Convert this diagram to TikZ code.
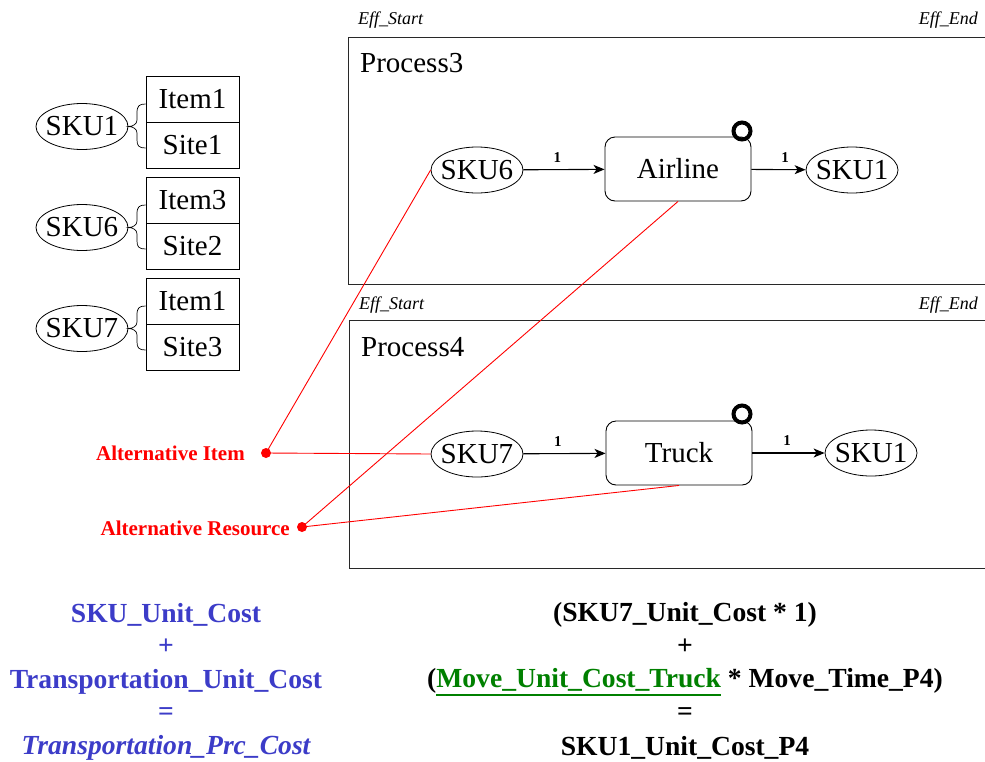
\documentclass[tikz,border=0pt]{standalone}
\usepackage{fontspec}
\setmainfont{Liberation Serif}
\usetikzlibrary{shapes.geometric,arrows.meta}
\definecolor{costblue}{RGB}{60,60,200}
\definecolor{costgreen}{RGB}{0,128,0}
\definecolor{frame}{RGB}{40,40,40}
% heavier underline set a little below the text
\newcommand{\heavyuline}[1]{\leavevmode\vtop{\hbox{#1}\kern2.2pt\hrule height 1.8pt}}
\begin{document}
\begin{tikzpicture}[x=1pt,y=-1pt,
  big/.style={font=\fontsize{29}{34}\selectfont},
  sku/.style={ellipse,draw,line width=0.8pt,minimum width=92,minimum height=46,inner xsep=-4pt,inner ysep=0pt,big},
  half/.style={rectangle,draw,line width=0.8pt,minimum width=93,minimum height=46,inner sep=0pt,big},
  brace/.style={draw,line width=0.7pt},
  procbox/.style={draw=frame,line width=0.9pt},
  proctitle/.style={anchor=west,inner sep=0pt,big},
  effnote/.style={inner sep=0pt,font=\fontsize{18}{20}\selectfont\itshape},
  resource/.style={rectangle,draw,rounded corners=10pt,line width=0.9pt,minimum width=146,minimum height=64,inner sep=0pt,big},
  usage/.style={circle,draw,line width=4pt,minimum size=17,inner sep=0pt},
  flow/.style={draw,line width=1.1pt,-{Stealth[length=11pt,width=9pt,inset=3pt]}},
  qty/.style={inner sep=0pt,font=\fontsize{15}{16}\selectfont\bfseries},
  altline/.style={draw=red,line width=0.9pt},
  altdot/.style={circle,fill=red,minimum size=10,inner sep=0pt},
  alttext/.style={inner sep=0pt,text=red,font=\fontsize{21}{24}\selectfont\bfseries},
  costline/.style={inner sep=0pt,font=\fontsize{27.6}{31}\selectfont\bfseries},
]
\useasboundingbox (0,0) rectangle (985,761);

% SKU definitions: each SKU ellipse braced to its item/site pair
\foreach \t/\s/\itm/\si/\n in {76/SKU1/Item1/Site1/a,177/SKU6/Item3/Site2/b,278/SKU7/Item1/Site3/c}{
  \node[half] (item\n) at (192.5,\t+23) {\itm};
  \node[half] (site\n) at (192.5,\t+69) {\si};
  \node[sku] (key\n) at (82,\t+50.5) {\s};
  \draw[brace] ([yshift=-5pt]item\n.west)
      .. controls (139,\t+28) and (137,\t+30) .. (137,\t+37)
      -- (137,\t+44)
      .. controls (137,\t+48) and (133,\t+50.5) .. (key\n.east)
      .. controls (133,\t+50.5) and (137,\t+53) .. (137,\t+57)
      -- (137,\t+64)
      .. controls (137,\t+70) and (139,\t+72) .. ([yshift=-3pt]site\n.west);
}

% Process 3
\draw[procbox] (990,37) -- (348,37) -- (348,284) -- (990,284);
\node[effnote,anchor=west] (p3start) at (358,20) {Eff\_Start};
\node[effnote,anchor=east] (p3end) at (978,20) {Eff\_End};
\node[proctitle] (p3title) at (360,63) {Process3};
\node[sku] (p3in) at (477,170) {SKU6};
\node[resource] (airline) at (678,169) {Airline};
\node[usage] (airlineuse) at (742,131) {};
\node[sku] (p3out) at (852,170) {SKU1};
\draw[flow] (p3in) -- node[qty,pos=0.42,above=7pt] {1} (airline);
\draw[flow] (airline) -- node[qty,pos=0.62,above=7pt] {1} (p3out);

% Process 4
\draw[procbox] (990,320) -- (349,320) -- (349,568) -- (990,568);
\node[effnote,anchor=west] (p4start) at (359,305) {Eff\_Start};
\node[effnote,anchor=east] (p4end) at (978,305) {Eff\_End};
\node[proctitle] (p4title) at (361,347) {Process4};
\node[sku] (p4in) at (477,454) {SKU7};
\node[resource] (truck) at (679,453) {Truck};
\node[usage] (truckuse) at (742,414) {};
\node[sku] (p4out) at (871,453) {SKU1};
\draw[flow] (p4in) -- node[qty,pos=0.42,above=7pt] {1} (truck);
\draw[flow] (truck) -- node[qty,pos=0.48,above=7pt] {1} (p4out);

% Alternatives
\node[altdot] (altitemdot) at (266,453) {};
\node[alttext,anchor=east] (altitem) at (245,453) {Alternative Item};
\node[altdot] (altresdot) at (302,527) {};
\node[alttext,anchor=east] (altres) at (290,528) {Alternative Resource};
\draw[altline] (altitemdot.center) -- (p3in.west);
\draw[altline] (altitemdot.center) -- (p4in.west);
\draw[altline] (altresdot.center) -- (airline.south);
\draw[altline] (altresdot.center) -- (truck.south);

% Cost formulas
\begin{scope}[every node/.style={costline,text=costblue}]
  \node (lcost1) at (166,615) {SKU\_Unit\_Cost};
  \node (lplus) at (166,647) {+};
  \node (lcost2) at (166,682) {Transportation\_Unit\_Cost};
  \node (leq) at (166,714) {=};
  \node (lres) at (166,748) {\itshape Transportation\_Prc\_Cost};
\end{scope}
\begin{scope}[every node/.style={costline}]
  \node (rcost1) at (685,615) {(SKU7\_Unit\_Cost * 1)};
  \node (rplus) at (685,647) {+};
  \node (rcost2) at (685,682) {(\textcolor{costgreen}{\heavyuline{Move\_Unit\_Cost\_Truck}} * Move\_Time\_P4)};
  \node (req) at (685,714) {=};
  \node (rres) at (685,748) {SKU1\_Unit\_Cost\_P4};
\end{scope}
\end{tikzpicture}
\end{document}
